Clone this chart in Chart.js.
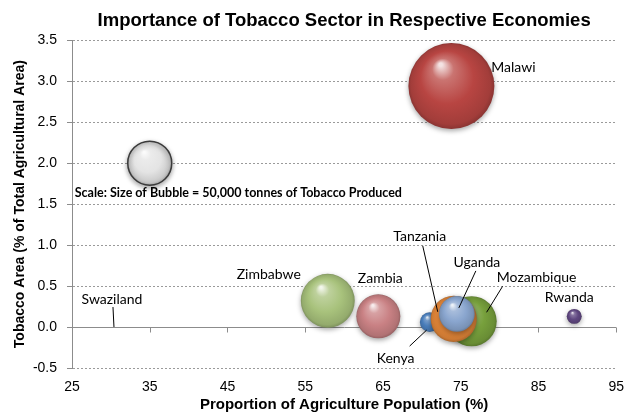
<!DOCTYPE html>
<html>
<head>
<meta charset="utf-8">
<script src="https://cdn.jsdelivr.net/npm/chart.js@4.4.1/dist/chart.umd.min.js"></script>
<style>
  html, body { margin: 0; padding: 0; background: #fff; }
  #wrap { width: 635px; height: 414px; }
</style>
</head>
<body>
<div id="wrap"><canvas id="tobaccoChart"></canvas></div>
<script>
/* Importance of Tobacco Sector in Respective Economies - bubble chart */

// ---- data ----
const countries      = ['Swaziland', 'Zimbabwe', 'Zambia', 'Kenya', 'Mozambique', 'Tanzania', 'Uganda', 'Malawi', 'Rwanda'];
const agriPopulation = [30.4, 57.9, 64.4, 71.0, 76.4, 74.1, 74.5, 73.8, 89.6];   // % of population in agriculture
const tobaccoArea    = [0.00, 0.32, 0.13, 0.06, 0.07, 0.10, 0.16, 2.94, 0.13];   // % of total agricultural area
const tobaccoTonnes  = [0, 75000, 50000, 10000, 65000, 55000, 33000, 191000, 5800];
const xTickValues    = [25, 35, 45, 55, 65, 75, 85, 95];
const yTickValues    = [-0.5, 0.0, 0.5, 1.0, 1.5, 2.0, 2.5, 3.0, 3.5];

const scaleTonnes = 50000;
const scalePoint  = [35, 2.0];
const scaleText   = 'Scale: Size of Bubble = 50,000 tonnes of Tobacco Produced';

// ---- styling ----
const BUBBLE_PX = 22;   // radius in px for scaleTonnes
const AXIS_GREY = '#8c8c8c';
const baseColors = {
    Swaziland: '#8064A2', Zimbabwe: '#A8C27C', Zambia: '#C98184', Kenya: '#4A7EBB',
    Mozambique: '#77A03C', Tanzania: '#E8893A', Uganda: '#8AA6CF', Malawi: '#B84542', Rwanda: '#5F4780'
};
// label placement relative to bubble centre (px): text offset and optional leader line
const labelPlacement = {
    Swaziland:  { dx: -2,  dy: -28, line: [0, 0, -1, -20] },
    Zimbabwe:   { dx: -59, dy: -26 },
    Zambia:     { dx: 2,   dy: -38 },
    Kenya:      { dx: -34, dy: 36,  line: [-3, 8, -20, 24] },
    Mozambique: { dx: 65,  dy: -44, line: [15, -9, 31, -35] },
    Tanzania:   { dx: -34, dy: -82, line: [-16, -7, -31, -73] },
    Uganda:     { dx: 20,  dy: -51, line: [2, -6, 19, -43] },
    Malawi:     { dx: 62,  dy: -19 },
    Rwanda:     { dx: -5,  dy: -19 }
};

function radiusFor(t) {
    return BUBBLE_PX * Math.sqrt(t / scaleTonnes);
}

function mix(hex, target, amt) {
    const n = parseInt(hex.slice(1), 16);
    const r = (n >> 16) & 255, g = (n >> 8) & 255, b = n & 255;
    const m = c => Math.round(c + (target - c) * amt);
    return `rgb(${m(r)},${m(g)},${m(b)})`;
}

function sphere(context, base) {
    const chart = context.chart;
    const raw = context.raw;
    if (!raw || !chart.scales.x || !chart.scales.y) return base;
    const cx = chart.scales.x.getPixelForValue(raw.x);
    const cy = chart.scales.y.getPixelForValue(raw.y);
    if (!Number.isFinite(cx) || !Number.isFinite(cy)) return base;
    const r = Math.max(raw.r, 1);
    const g = chart.ctx.createRadialGradient(cx - r * 0.25, cy - r * 0.5, r * 0.04, cx, cy, r);
    g.addColorStop(0, mix(base, 255, 0.85));
    g.addColorStop(0.22, mix(base, 255, 0.25));
    g.addColorStop(0.6, base);
    g.addColorStop(0.92, mix(base, 0, 0.12));
    g.addColorStop(1, mix(base, 0, 0.25));
    return g;
}

const countryData = countries.map((c, i) => ({
    x: agriPopulation[i], y: tobaccoArea[i], r: radiusFor(tobaccoTonnes[i]), name: c
}));

// x axis crosses at y = 0: draw its tick marks there
const zeroAxisTicks = {
    id: 'zeroAxisTicks',
    beforeDatasetsDraw(chart) {
        const { ctx, scales: { x, y } } = chart;
        const y0 = Math.round(y.getPixelForValue(0)) + 0.5;
        ctx.save();
        ctx.strokeStyle = AXIS_GREY;
        ctx.lineWidth = 1;
        ctx.beginPath();
        xTickValues.forEach(v => {
            const px = Math.round(x.getPixelForValue(v)) + 0.5;
            ctx.moveTo(px, y0);
            ctx.lineTo(px, y0 + 5);
        });
        ctx.stroke();
        ctx.restore();
    }
};

const shadowPlugin = {
    id: 'sphereShadow',
    beforeDatasetDraw(chart) {
        const ctx = chart.ctx;
        ctx.save();
        ctx.shadowColor = 'rgba(0,0,0,0.35)';
        ctx.shadowBlur = 5;
        ctx.shadowOffsetY = 2;
    },
    afterDatasetDraw(chart) {
        chart.ctx.restore();
    }
};

const labelPlugin = {
    id: 'bubbleLabels',
    afterDatasetsDraw(chart) {
        const ctx = chart.ctx;
        ctx.save();
        ctx.fillStyle = '#000';
        ctx.strokeStyle = '#000';
        ctx.lineWidth = 1;
        ctx.font = '14px Lato';
        ctx.textAlign = 'center';
        ctx.textBaseline = 'middle';
        chart.getDatasetMeta(0).data.forEach((pt, i) => {
            const lp = labelPlacement[countries[i]];
            const { x, y } = pt.getProps(['x', 'y'], true);
            if (lp.line) {
                ctx.beginPath();
                ctx.moveTo(x + lp.line[0], y + lp.line[1]);
                ctx.lineTo(x + lp.line[2], y + lp.line[3]);
                ctx.stroke();
            }
            ctx.fillText(countries[i], x + lp.dx, y + lp.dy);
        });
        // scale note under the reference bubble
        const sp = chart.getDatasetMeta(1).data[0].getProps(['x', 'y'], true);
        ctx.font = 'bold 12.5px Lato';
        ctx.textAlign = 'left';
        ctx.fillText(scaleText, sp.x - 75, sp.y + 30);
        ctx.restore();
    }
};

Chart.defaults.font.family = '"Liberation Sans", Arial, sans-serif';
Chart.defaults.color = '#000';

new Chart(document.getElementById('tobaccoChart'), {
    type: 'bubble',
    data: {
        datasets: [{
            label: 'Countries',
            data: countryData,
            backgroundColor: ctx => sphere(ctx, baseColors[countries[ctx.dataIndex]]),
            borderWidth: 0,
            hoverBorderWidth: 0
        }, {
            label: 'Scale',
            data: [{ x: scalePoint[0], y: scalePoint[1], r: radiusFor(scaleTonnes) }],
            backgroundColor: ctx => sphere(ctx, '#E4E4E4'),
            borderColor: '#3a3a3a',
            borderWidth: 1.5
        }]
    },
    options: {
        responsive: true,
        maintainAspectRatio: false,
        animation: false,
        clip: false,
        layout: { autoPadding: false, padding: { left: 12, right: 13, top: 0, bottom: 0 } },
        plugins: {
            legend: { display: false },
            tooltip: { enabled: false },
            title: {
                display: true,
                fullSize: false,
                text: 'Importance of Tobacco Sector in Respective Economies',
                font: { size: 18.5, weight: 'bold' },
                padding: { top: 10, bottom: 8 }
            }
        },
        scales: {
            x: {
                type: 'linear',
                min: 25, max: 95,
                afterBuildTicks: s => { s.ticks = xTickValues.map(v => ({ value: v })); },
                afterFit: s => { s.height = 46; },
                ticks: { font: { size: 14 }, padding: 11 },
                grid: { display: false, drawTicks: false },
                border: { display: false },
                title: {
                    display: true,
                    text: 'Proportion of Agriculture Population (%)',
                    font: { size: 15, weight: 'bold' },
                    padding: { top: 2, bottom: 0 }
                }
            },
            y: {
                type: 'linear',
                min: -0.5, max: 3.5,
                afterBuildTicks: s => { s.ticks = yTickValues.map(v => ({ value: v })); },
                afterFit: s => { s.width = 60; },
                ticks: { font: { size: 14 }, padding: 10, callback: v => v.toFixed(1) },
                grid: {
                    color: c => (c.tick && c.tick.value === 0 ? AXIS_GREY : '#9a9a9a'),
                    tickColor: AXIS_GREY, tickLength: 5, tickBorderDash: []
                },
                border: {
                    display: true, color: AXIS_GREY,
                    dash: c => (c.tick && c.tick.value === 0 ? [] : [2, 2])
                },
                title: {
                    display: true,
                    text: 'Tobacco Area (% of Total Agricultural Area)',
                    font: { size: 14, weight: 'bold' },
                    padding: { top: 0, bottom: 4 }
                }
            }
        }
    },
    plugins: [zeroAxisTicks, shadowPlugin, labelPlugin]
});
</script>
</body>
</html>
